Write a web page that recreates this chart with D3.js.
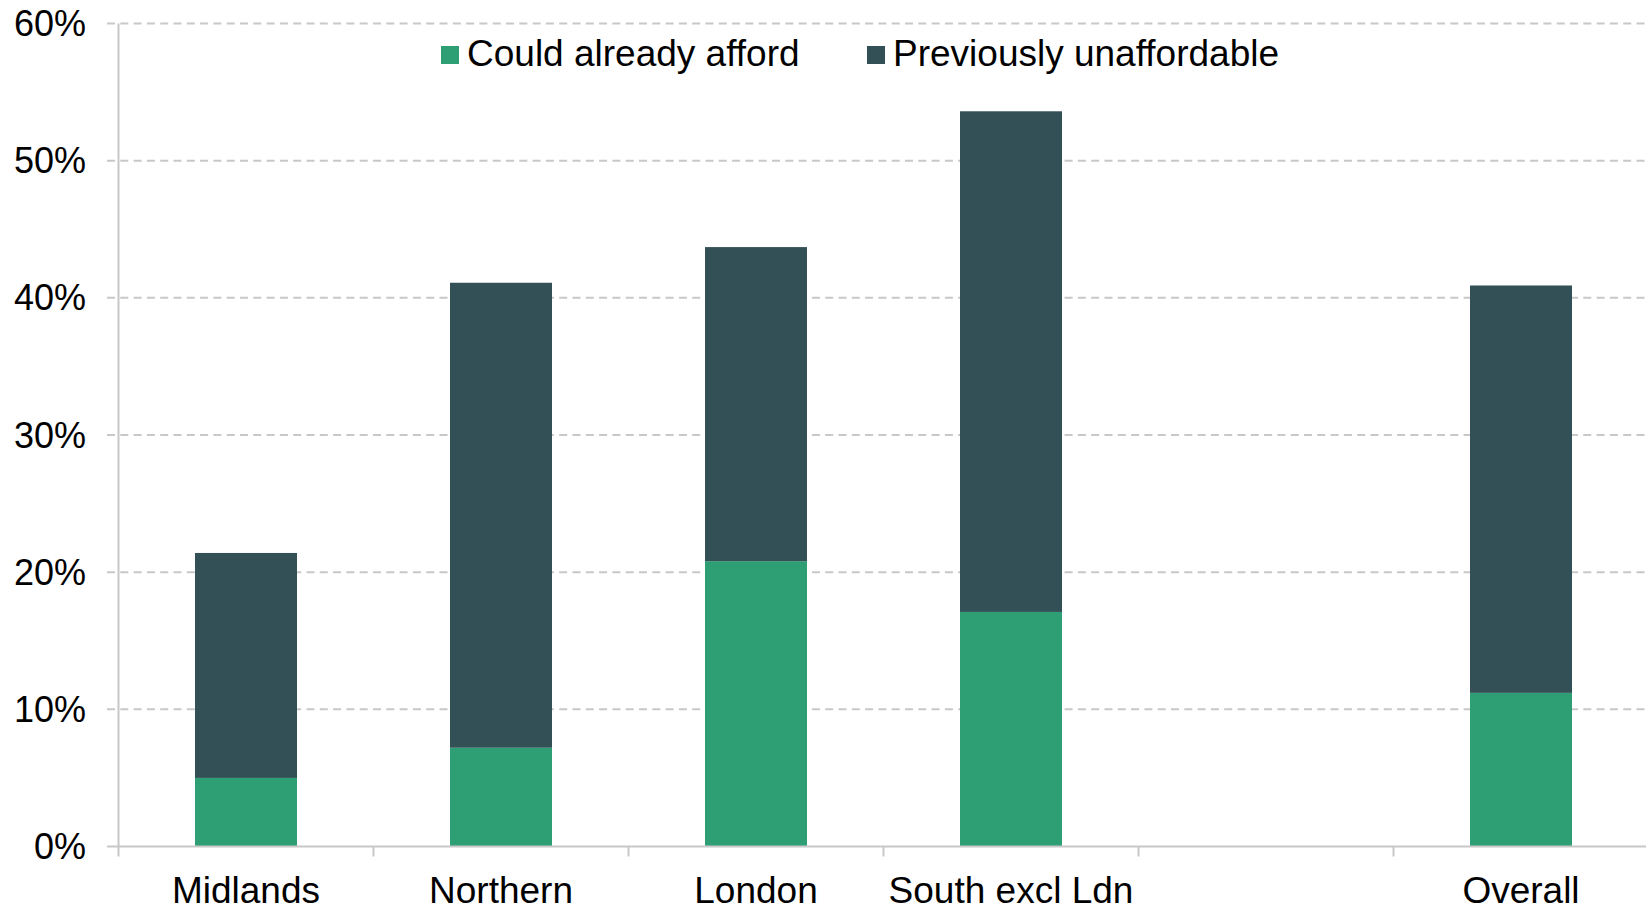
<!DOCTYPE html>
<html><head><meta charset="utf-8">
<script src="https://cdn.jsdelivr.net/npm/d3@7"></script>
<style>
html,body{margin:0;padding:0;background:#fff;}
svg{display:block;}
text{font-family:"Liberation Sans",Arial,sans-serif;fill:#000;}
</style></head>
<body><svg id="chart" width="1646" height="908"></svg>
<script>
const categories = ["Midlands", "Northern", "London", "South excl Ldn", "", "Overall"];
const couldAfford = [5.0, 7.2, 20.8, 17.1, null, 11.2];
const previouslyUnaffordable = [16.4, 33.9, 22.9, 36.5, null, 29.7];
const seriesNames = ["Could already afford", "Previously unaffordable"];
const seriesColors = ["#2e9e74", "#335056"];
const yTicks = [0, 10, 20, 30, 40, 50, 60];

(function () {
const svg = d3.select("#chart");
const W = 1646;
const mLeft = 118.5, mRight = 1648.5, mTop = 23.5, mBottom = 846.5;

const x = d3.scaleBand().domain(categories).range([mLeft, mRight])
  .paddingInner(0.6).paddingOuter(0.3);
const y = d3.scaleLinear().domain([0, 60]).range([mBottom, mTop]);

// gridlines
svg.append("g").selectAll("line").data(yTicks.filter(d => d > 0)).join("line")
  .attr("x1", 107).attr("x2", W)
  .attr("y1", d => y(d)).attr("y2", d => y(d))
  .attr("stroke", "#c8c8c8").attr("stroke-width", 2)
  .attr("stroke-dasharray", "8,5.3");

// stacked bars
const rows = categories.map((c, i) => ({cat: c, a: couldAfford[i], b: previouslyUnaffordable[i]}))
  .filter(d => d.a != null);
const stack = d3.stack().keys(["a", "b"])(rows);
svg.append("g").selectAll("g").data(stack).join("g")
  .attr("fill", (d, i) => seriesColors[i])
  .selectAll("rect").data(d => d).join("rect")
  .attr("x", d => x(d.data.cat))
  .attr("width", x.bandwidth())
  .attr("y", d => y(d[1]))
  .attr("height", d => y(d[0]) - y(d[1]));

// y axis line
svg.append("line").attr("x1", mLeft).attr("x2", mLeft).attr("y1", mTop).attr("y2", mBottom + 10)
  .attr("stroke", "#c8c8c8").attr("stroke-width", 2);
// x axis line
svg.append("line").attr("x1", 107).attr("x2", W).attr("y1", mBottom).attr("y2", mBottom)
  .attr("stroke", "#c8c8c8").attr("stroke-width", 2);
// x category boundary ticks
const step = x.step();
const bounds = categories.map(c => x(c) - step * x.paddingInner() / 2);
svg.append("g").selectAll("line").data(bounds.slice(1)).join("line")
  .attr("x1", d => d).attr("x2", d => d).attr("y1", mBottom).attr("y2", mBottom + 10)
  .attr("stroke", "#c8c8c8").attr("stroke-width", 2);

// y tick labels
svg.append("g").selectAll("text").data(yTicks).join("text")
  .attr("x", 86).attr("y", d => y(d) + 12.5)
  .attr("text-anchor", "end").attr("font-size", 36)
  .text(d => d + "%");

// x labels
svg.append("g").selectAll("text").data(categories).join("text")
  .attr("x", d => x(d) + x.bandwidth() / 2).attr("y", 903)
  .attr("text-anchor", "middle").attr("font-size", 37)
  .text(d => d);

// legend
const legX = [441, 867];
const leg = svg.append("g").selectAll("g").data(seriesNames).join("g")
  .attr("transform", (d, i) => `translate(${legX[i]},0)`);
leg.append("rect").attr("x", 0).attr("y", 46).attr("width", 18).attr("height", 18)
  .attr("fill", (d, i) => seriesColors[i]);
leg.append("text").attr("x", 26).attr("y", 66).attr("font-size", 37).text(d => d);
})();
</script></body></html>
